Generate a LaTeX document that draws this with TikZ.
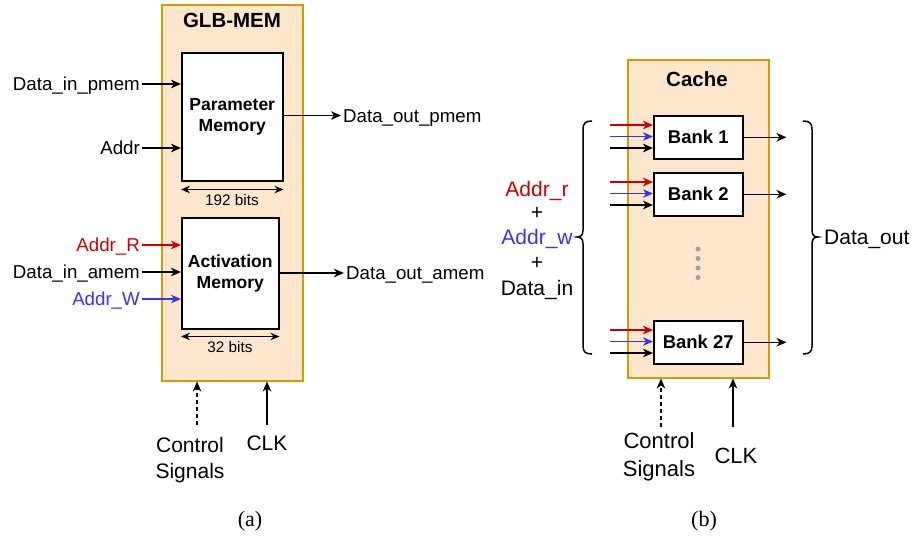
\documentclass[tikz,border=0pt]{standalone}
\usepackage{fontspec}
\setmainfont{Liberation Serif}
\setsansfont{Liberation Sans}
\usetikzlibrary{arrows.meta}
\definecolor{peach}{RGB}{255,230,204}
\definecolor{gold}{RGB}{215,155,0}
\definecolor{addrred}{RGB}{204,0,0}
\definecolor{addrblue}{RGB}{51,51,255}
\definecolor{dotgray}{RGB}{160,160,160}
\begin{document}
\begin{tikzpicture}[x=1pt,y=-1pt,
  font=\sffamily,
  tip/.tip={Stealth[length=10pt,width=8.5pt,inset=3pt]},
  arr/.style={-tip, line width=1.5pt},
  dblarr/.style={{Stealth[length=9pt,width=7.5pt,inset=3pt]}-{Stealth[length=9pt,width=7.5pt,inset=3pt]}, line width=1.3pt},
  panel/.style={draw=gold, fill=peach, line width=1.5pt, anchor=north west, inner sep=0pt},
  membox/.style={draw=black, fill=white, line width=1.5pt, anchor=north west, inner sep=0pt, align=center,
    font=\sffamily\bfseries\fontsize{17.5}{21.5}\selectfont},
  bankbox/.style={membox, font=\sffamily\bfseries\fontsize{18.5}{22}\selectfont},
  paneltitle/.style={font=\sffamily\bfseries\fontsize{20.5}{24}\selectfont},
  lbla/.style={font=\sffamily\fontsize{18.7}{22}\selectfont, inner sep=2pt, text height=13.4pt, text depth=0pt},
  lblb/.style={font=\sffamily\fontsize{21}{26}\selectfont, inner sep=2pt, text height=15pt, text depth=0pt},
  bits/.style={font=\sffamily\fontsize{15.3}{18}\selectfont, inner sep=1pt},
  ctla/.style={font=\sffamily\fontsize{21}{26}\selectfont, align=center, inner sep=0pt},
  ctlb/.style={font=\sffamily\fontsize{22}{28}\selectfont, align=center, inner sep=0pt},
  caption/.style={font=\rmfamily\fontsize{22}{26}\selectfont},
  brace/.style={line width=1.5pt},
  dot/.style={circle, fill=dotgray, inner sep=0pt, minimum size=5pt}
]
\useasboundingbox (0,0) rectangle (913,538);

% ---------- (a) GLB-MEM ----------
\node[panel, minimum width=141pt, minimum height=376pt] (glb) at (161,4) {};
\node[paneltitle] (glbt) at (232,20) {GLB-MEM};
\node[membox, minimum width=101pt, minimum height=128pt] (pmem) at (181,52) {Parameter\\Memory};
\node[membox, minimum width=97pt, minimum height=111pt] (amem) at (181,217) {Activation\\Memory};

\node[lbla, anchor=east] (dip) at (142,84) {Data\_in\_pmem};
\node[lbla, anchor=east] (addr) at (142,148) {Addr};
\node[lbla, anchor=east, text=addrred] (addrR) at (142,245) {Addr\_R};
\node[lbla, anchor=east] (dia) at (142,272) {Data\_in\_amem};
\node[lbla, anchor=east, text=addrblue] (addrW) at (142,299) {Addr\_W};

\draw[arr] (dip.east) -- (dip -| pmem.west);
\draw[arr] (addr.east) -- (addr -| pmem.west);
\draw[arr, addrred] (addrR.east) -- (addrR -| amem.west);
\draw[arr] (dia.east) -- (dia -| amem.west);
\draw[arr, addrblue] (addrW.east) -- (addrW -| amem.west);

\node[lbla, anchor=west] (dop) at (341,115.5) {Data\_out\_pmem};
\node[lbla, anchor=west] (doa) at (344,273) {Data\_out\_amem};
\draw[arr] (dop -| pmem.east) -- (dop.west);
\draw[arr] (doa -| amem.east) -- (doa.west);

\draw[dblarr] ([yshift=-8pt]pmem.south west) -- ([yshift=-8pt]pmem.south east);
\node[bits] (b192) at (232,200) {192 bits};
\draw[dblarr] ([yshift=-7pt]amem.south west) -- ([yshift=-7pt]amem.south east);
\node[bits] (b32) at (230,347) {32 bits};

\node[ctla] (ctrla) at (190,460) {Control\\Signals};
\node[lbla, font=\sffamily\fontsize{21}{26}\selectfont, text height=15pt] (clka) at (267,443) {CLK};
\coordinate (ca) at (197,425);
\coordinate (ka) at (267,425);
\draw[arr, dashed, dash pattern=on 4pt off 3pt] (ca) -- (ca |- glb.south);
\draw[arr] (ka) -- (ka |- glb.south);

\node[caption] (capa) at (250,521) {(a)};

% ---------- (b) Cache ----------
\node[panel, minimum width=141pt, minimum height=318pt] (cache) at (627,59) {};
\node[paneltitle] (cachet) at (697,79) {Cache};
\node[bankbox, minimum width=89pt, minimum height=43pt] (bk1) at (653,115) {Bank 1};
\node[bankbox, minimum width=89pt, minimum height=43pt] (bk2) at (653,172) {Bank 2};
\node[bankbox, minimum width=89pt, minimum height=43pt] (bk27) at (653,320) {Bank 27};

\foreach \b in {bk1,bk2,bk27}{
  \draw[arr, addrred]  ([xshift=-43pt,yshift=-10pt]\b.north west) -- ([yshift=-10pt]\b.north west);
  \draw[arr, addrblue] ([xshift=-43pt,yshift=-21.5pt]\b.north west) -- ([yshift=-21.5pt]\b.north west);
  \draw[arr]           ([xshift=-43pt,yshift=-33pt]\b.north west) -- ([yshift=-33pt]\b.north west);
  \draw[arr] (\b.east) -- ([xshift=43pt]\b.east);
}

\foreach \y [count=\i] in {249,258.5,268,277.5}
  \node[dot] (d\i) at (698,\y) {};

\node[lblb, text=addrred] (ar) at (537,188.5) {Addr\_r};
\node[lblb] (p1) at (537,212) {+};
\node[lblb, text=addrblue] (aw) at (537,237) {Addr\_w};
\node[lblb] (p2) at (537,262) {+};
\node[lblb] (din) at (537,287.5) {Data\_in};
\node[lblb, anchor=west] (dout) at (822,237) {Data\_out};

% input brace
\draw[brace] (592,121) .. controls (586,121) and (583,123) .. (583,129)
  -- (583,230) .. controls (583,235) and (581,237) .. (577,237)
  .. controls (581,237) and (583,239) .. (583,244)
  -- (583,346) .. controls (583,352) and (586,354) .. (592,354);
% output brace
\draw[brace] (803,121) .. controls (809,121) and (812,123) .. (812,129)
  -- (812,230) .. controls (812,235) and (814,237) .. (818,237)
  .. controls (814,237) and (812,239) .. (812,244)
  -- (812,346) .. controls (812,352) and (809,354) .. (803,354);

\node[ctlb] (ctrlb) at (659,456.5) {Control\\Signals};
\node[lblb, font=\sffamily\fontsize{22}{28}\selectfont, text height=15.7pt] (clkb) at (736,455.5) {CLK};
\coordinate (cb) at (661,427);
\coordinate (kb) at (733,427);
\draw[arr, dashed, dash pattern=on 4pt off 3pt] (cb) -- (cb |- cache.south);
\draw[arr] (kb) -- (kb |- cache.south);

\node[caption] (capb) at (704,521) {(b)};
\end{tikzpicture}
\end{document}
